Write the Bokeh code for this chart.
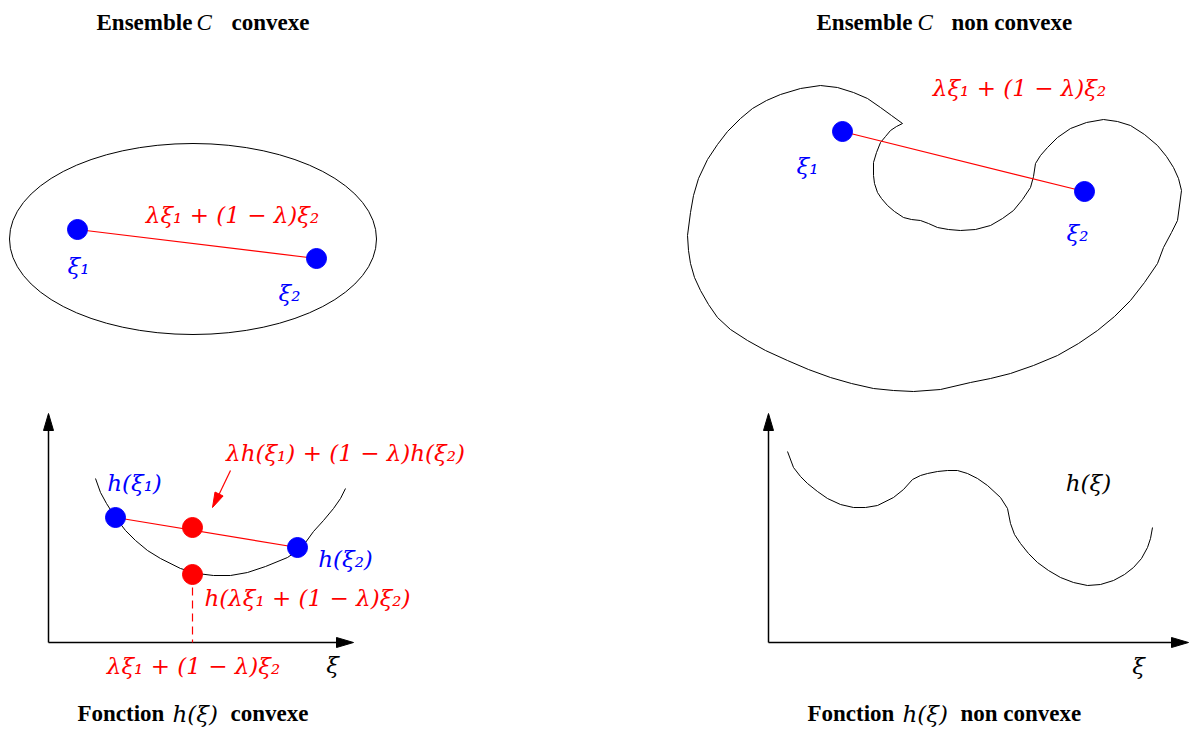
from bokeh.plotting import figure
from bokeh.models import Range1d
from bokeh.embed import file_html
from bokeh.resources import INLINE
from bokeh.core.properties import value

# ---------------- data (picture pixel coordinates) ----------------
# convex set: ellipse
ell_cx, ell_cy, ell_w, ell_h = 192.5, 238.5, 367, 191
conv_pts_x = [77, 316]
conv_pts_y = [229, 258]

# non convex set: kidney outline
kid_x = [902, 891, 880, 867, 853, 837, 820, 800, 780, 766, 752, 740, 727, 717, 707, 698, 693, 690, 687,
         688, 690, 694, 700, 708, 717, 730, 747, 765, 787, 808, 830, 851, 873, 893, 913, 940, 970,
         990, 1010, 1033, 1057, 1078, 1097, 1114, 1130, 1144, 1157, 1163, 1171, 1177, 1181, 1178,
         1173, 1166, 1157, 1144, 1130, 1117, 1103, 1086, 1070, 1057, 1047, 1040, 1035, 1033, 1030,
         1022, 1013, 1002, 990, 975, 960, 948, 937, 928, 920, 911, 903, 894, 887, 881, 877, 874,
         873, 873, 876, 880, 885, 890, 896, 902]
kid_y = [123, 115, 107, 98, 92, 87, 85, 88, 94, 100, 108, 118, 131, 144, 159, 178, 195, 212, 235,
         250, 263, 277, 290, 304, 317, 329, 340, 350, 360, 369, 377, 383, 388, 390, 391, 389, 382,
         378, 373, 365, 355, 343, 330, 316, 300, 282, 263, 247, 232, 220, 190, 178,
         167, 156, 145, 134, 125, 121, 119, 122, 128, 137, 147, 155, 163, 176, 187,
         199, 210, 218, 225, 229, 230, 229, 227, 223, 220, 219, 217, 211, 205, 198, 192, 183,
         175, 162, 152, 142, 136, 130, 126, 123]
nc_pts_x = [842, 1084]
nc_pts_y = [131, 191]

# convex function h
hc_x = [95, 100, 106, 115, 125, 135, 147, 160, 180, 197, 213, 230, 247, 265, 287, 297, 305, 313, 323, 333, 340, 345]
hc_y = [478, 492, 503, 517, 530, 540, 550, 558, 568, 573, 575, 575, 572, 566, 557, 550, 542, 531, 520, 508, 498, 488]
hc_blue_x = [115, 297]
hc_blue_y = [517, 547]
hc_red_x = [192, 192]
hc_red_y = [527, 574]

# non convex function h
hn_x = [787, 793, 800, 807, 817, 827, 840, 853, 865, 877, 893, 903, 912, 920, 927, 937, 947, 957, 967,
        977, 987, 1000, 1007, 1010, 1014, 1020, 1028, 1037, 1048, 1060, 1073, 1087, 1100, 1113, 1124,
        1133, 1141, 1147, 1150, 1152]
hn_y = [451, 467, 476, 483, 491, 498, 504, 507, 507, 505, 497, 489, 479, 475, 473, 471, 470, 470, 473,
        478, 485, 497, 508, 523, 534, 543, 553, 562, 570, 577, 582, 585, 584, 580, 574,
        567, 558, 547, 538, 527]

# axes (origin, x tip, y tip)
ax_left = dict(ox=48, oy=642, xt=353, yt=413)
ax_right = dict(ox=768, oy=642, xt=1188, yt=413)

RED = "#ff0000"
BLUE = "#0000ff"
MATH = "DejaVu Serif"
BOLD = "Liberation Serif"
MS = 23   # math text size
TS = 23   # title size

p = figure(width=1191, height=729, x_range=Range1d(0, 1191), y_range=Range1d(729, 0),
           output_backend="svg", toolbar_location=None, min_border=0)
p.axis.visible = False
p.grid.visible = False
p.outline_line_color = None
p.background_fill_color = "white"


def tri(tipx, tipy, dx, dy, length, half):
    n = (dx * dx + dy * dy) ** 0.5
    ux, uy = dx / n, dy / n
    bx, by = tipx - ux * length, tipy - uy * length
    px, py = -uy, ux
    return ([tipx, bx + px * half, bx - px * half], [tipy, by + py * half, by - py * half])


def axes(a):
    p.line([a["ox"], a["xt"] - 10], [a["oy"], a["oy"]], line_color="black", line_width=1.5)
    p.line([a["ox"], a["ox"]], [a["oy"], a["yt"] + 10], line_color="black", line_width=1.5)
    xs1, ys1 = tri(a["xt"], a["oy"], 1, 0, 17, 5)
    xs2, ys2 = tri(a["ox"], a["yt"], 0, -1, 17, 5)
    p.patches([xs1, xs2], [ys1, ys2], fill_color="black", line_color="black")


def txt(x, y, s, color="black", size=MS, style="italic", font=MATH, align="center"):
    p.text([x], [y], text=[s], text_color=color, text_font=value(font),
           text_font_size=f"{size}px", text_font_style=style,
           text_align=align, text_baseline="middle")


# ---------- top left: convex set ----------
p.ellipse(x=ell_cx, y=ell_cy, width=ell_w, height=ell_h, fill_color=None, line_color="black", line_width=1)
p.line(conv_pts_x, conv_pts_y, line_color=RED, line_width=1.2)
p.scatter(conv_pts_x, conv_pts_y, size=20, fill_color=BLUE, line_color=BLUE)
txt(78, 265, "ξ₁", BLUE)
txt(289, 292, "ξ₂", BLUE)
txt(232, 214, "λξ₁ + (1 − λ)ξ₂", RED)

# ---------- top right: non convex set ----------
p.line(kid_x, kid_y, line_color="black", line_width=1)
p.line(nc_pts_x, nc_pts_y, line_color=RED, line_width=1.2)
p.scatter(nc_pts_x, nc_pts_y, size=20, fill_color=BLUE, line_color=BLUE)
txt(807, 165, "ξ₁", BLUE)
txt(1077, 232, "ξ₂", BLUE)
txt(1019, 87, "λξ₁ + (1 − λ)ξ₂", RED)

# ---------- bottom left: convex function ----------
axes(ax_left)
p.line(hc_x, hc_y, line_color="black", line_width=1)
p.line(hc_blue_x, hc_blue_y, line_color=RED, line_width=1.2)
p.line([hc_red_x[1], hc_red_x[1]], [hc_red_y[1], ax_left["oy"]], line_color=RED, line_width=1.2, line_dash="8 5")
p.scatter(hc_blue_x, hc_blue_y, size=20, fill_color=BLUE, line_color=BLUE)
p.scatter(hc_red_x, hc_red_y, size=20, fill_color=RED, line_color=RED)
p.line([230, 218], [470, 495], line_color=RED, line_width=1.2)
axs, ays = tri(212, 507, 212 - 230, 507 - 470, 15, 4.5)
p.patch(axs, ays, fill_color=RED, line_color=RED)
txt(134, 482, "h(ξ₁)", BLUE)
txt(345, 452, "λh(ξ₁) + (1 − λ)h(ξ₂)", RED)
txt(345, 558, "h(ξ₂)", BLUE)
txt(307, 597, "h(λξ₁ + (1 − λ)ξ₂)", RED)
txt(193, 665, "λξ₁ + (1 − λ)ξ₂", RED)
txt(332, 664, "ξ", "black")

# ---------- bottom right: non convex function ----------
axes(ax_right)
p.line(hn_x, hn_y, line_color="black", line_width=1)
txt(1088, 482, "h(ξ)", "black")
txt(1138, 665, "ξ", "black")

# ---------- titles ----------
txt(96, 22, "Ensemble", size=TS, style="bold", font=BOLD, align="left")
txt(196, 22, "C", size=TS, style="italic", font=BOLD, align="left")
txt(231, 22, "convexe", size=TS, style="bold", font=BOLD, align="left")

txt(816, 22, "Ensemble", size=TS, style="bold", font=BOLD, align="left")
txt(917, 22, "C", size=TS, style="italic", font=BOLD, align="left")
txt(951, 22, "non convexe", size=TS, style="bold", font=BOLD, align="left")

txt(77, 713, "Fonction", size=TS, style="bold", font=BOLD, align="left")
txt(172, 713, "h(ξ)", size=TS, style="italic", font=MATH, align="left")
txt(230, 713, "convexe", size=TS, style="bold", font=BOLD, align="left")

txt(807, 713, "Fonction", size=TS, style="bold", font=BOLD, align="left")
txt(902, 713, "h(ξ)", size=TS, style="italic", font=MATH, align="left")
txt(960, 713, "non convexe", size=TS, style="bold", font=BOLD, align="left")

open("out.html", "w").write(file_html(p, INLINE))
